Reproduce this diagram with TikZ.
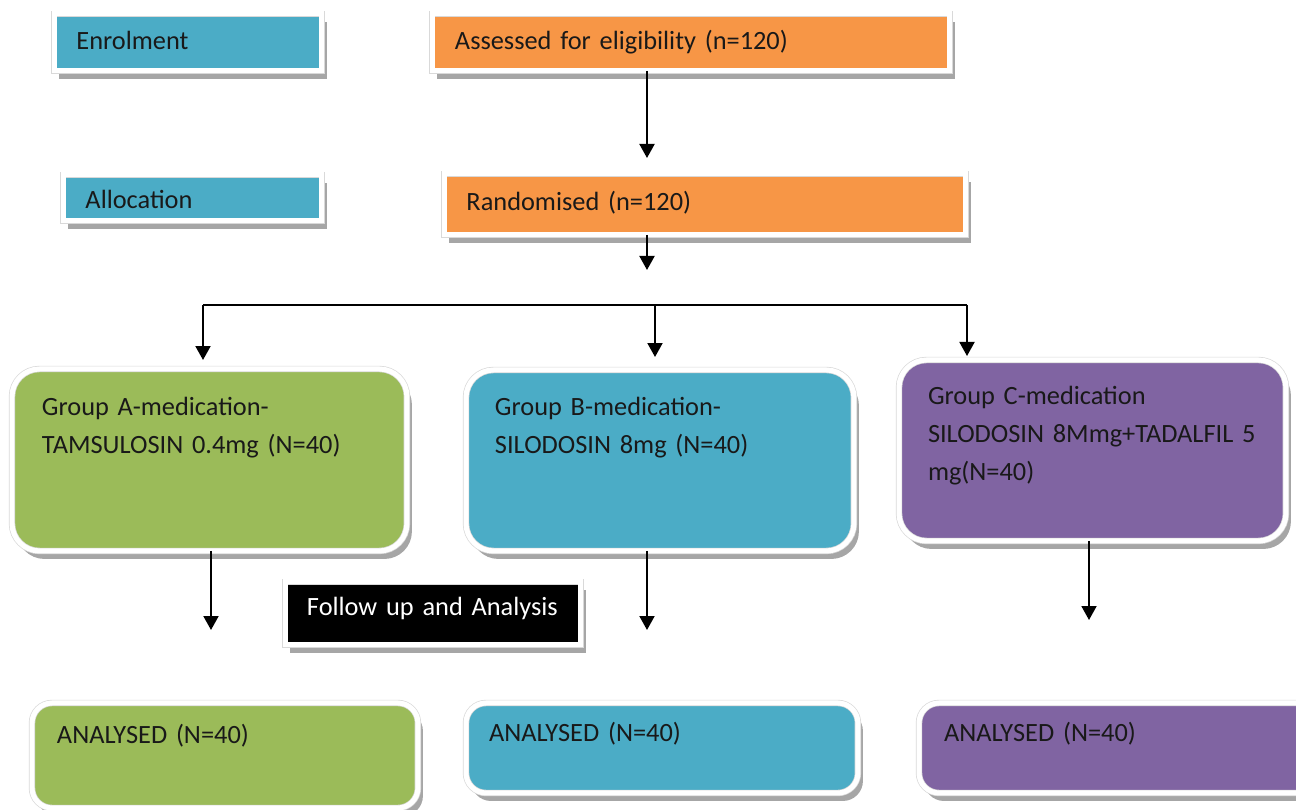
\documentclass[tikz,border=0pt]{standalone}
\usepackage{fontspec}
\setmainfont{Carlito}[WordSpace=0.7]
\usetikzlibrary{arrows.meta,shadows}
\definecolor{aqua}{HTML}{4BACC6}
\definecolor{orng}{HTML}{F79646}
\definecolor{grn}{HTML}{9BBB59}
\definecolor{purp}{HTML}{8064A2}
\begin{document}
\begin{tikzpicture}[x=0.02cm,y=-0.02cm,
  box/.style={rectangle, anchor=north west, outer sep=0pt, inner ysep=0pt, align=left,
    draw=black!15, line width=0.4pt, double=white, double distance=0.1cm,
    drop shadow={shadow xshift=0.1cm, shadow yshift=-0.16cm, fill=black, opacity=0.35},
    font=\fontsize{15}{21.5}\selectfont, text=black!90},
  rbox/.style={box, rounded corners=0.55cm},
  arr/.style={line width=1.1pt, -{Triangle[length=0.28cm,width=0.3cm]}}]
\useasboundingbox (0,0) rectangle (1296,810);
\clip (0,0) rectangle (1296,810);
% left column
\node[box, fill=aqua, inner xsep=0.45cm, text width=4.46cm, text height=0.72cm, text depth=0.42cm] (enrol) at (54,14) {Enrolment};
\node[box, fill=aqua, inner xsep=0.45cm, text width=4.28cm, text height=0.68cm, text depth=0.24cm] (alloc) at (63,175) {Allocation};
% flow
\node[box, fill=orng, inner xsep=0.46cm, text width=9.44cm, text height=0.72cm, text depth=0.42cm] (assess) at (432,14) {Assessed for eligibility (n=120)};
\node[box, fill=orng, inner xsep=0.45cm, text width=9.54cm, text height=0.74cm, text depth=0.48cm] (random) at (444,174) {Randomised (n=120)};
\node[rbox, fill=grn, inner xsep=0.6cm, text width=6.7cm, text height=0.94cm, text depth=2.7cm] (grpA) at (12,369) {Group A-medication-\\TAMSULOSIN 0.4mg (N=40)};
\node[rbox, fill=aqua, inner xsep=0.58cm, text width=6.6cm, text height=0.92cm, text depth=2.7cm] (grpB) at (466,370) {Group B-medication-\\SILODOSIN 8mg (N=40)};
\node[rbox, fill=purp, inner xsep=0.58cm, text width=6.58cm, text height=0.9cm, text depth=2.72cm] (grpC) at (899,360) {Group C-medication\\SILODOSIN 8Mmg+TADALFIL 5\\mg(N=40)};
\node[box, fill=black, text=white, inner xsep=0.44cm, text width=5.04cm, text height=0.68cm, text depth=0.58cm] (follow) at (285,582) {Follow up and Analysis};
\node[rbox, rounded corners=0.4cm, fill=grn, inner xsep=0.5cm, text width=6.72cm, text height=0.82cm, text depth=1.28cm] (anA) at (32,703) {ANALYSED (N=40)};
\node[rbox, rounded corners=0.4cm, fill=aqua, inner xsep=0.46cm, text width=6.92cm, text height=0.78cm, text depth=1.02cm] (anB) at (466,703) {ANALYSED (N=40)};
\node[rbox, rounded corners=0.4cm, fill=purp, inner xsep=0.5cm, text width=7cm, text height=0.78cm, text depth=1.02cm] (anC) at (919,703) {ANALYSED (N=40)};
% connectors
\coordinate (t1) at (647,158);
\coordinate (t2) at (647,270);
\coordinate (hl) at (203,305);
\coordinate (hm) at (655,305);
\coordinate (hr) at (967,305);
\coordinate (ta) at (211,630);
\coordinate (tb) at (647,630);
\coordinate (tc) at (1089,620);
\draw[arr] (assess.south -| t1) -- (t1);
\draw[arr] (random.south -| t2) -- (t2);
\draw[line width=1.1pt] (hl) -- (hr);
\draw[arr, shorten >=0.18cm] (hl) -- (hl |- grpA.north);
\draw[arr, shorten >=0.26cm] (hm) -- (hm |- grpB.north);
\draw[arr, shorten >=0.08cm] (hr) -- (hr |- grpC.north);
\draw[arr] (grpA.south -| ta) -- (ta);
\draw[arr] (grpB.south -| tb) -- (tb);
\draw[arr] (grpC.south -| tc) -- (tc);
\end{tikzpicture}
\end{document}
